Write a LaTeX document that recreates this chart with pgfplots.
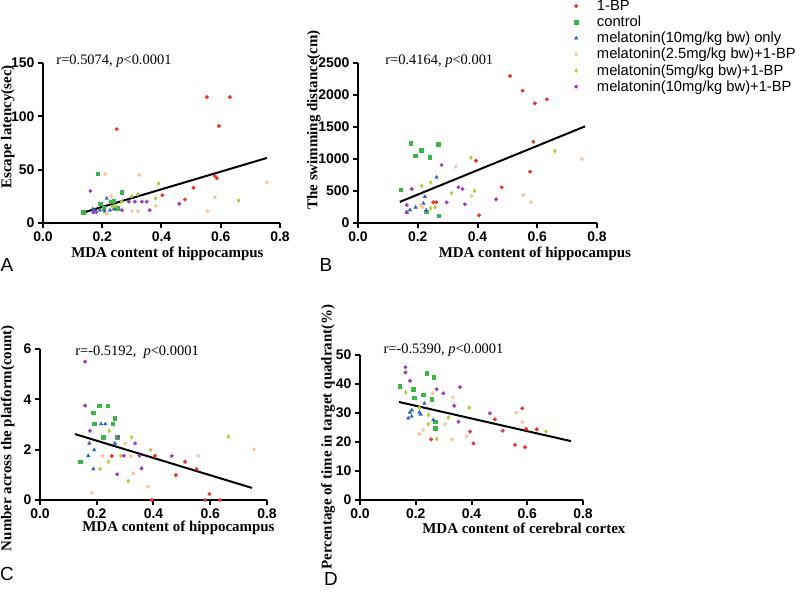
\documentclass[border=0pt]{standalone}
\usepackage{fontspec}
\setmainfont{Liberation Serif}
\newfontfamily\arial{Liberation Sans}
\usepackage{pgfplots}
\pgfplotsset{compat=1.18}

\definecolor{cR}{HTML}{E8372A}
\definecolor{cG}{HTML}{3DB54A}
\definecolor{cB}{HTML}{2E62B8}
\definecolor{cP}{HTML}{F5C79A}
\definecolor{cY}{HTML}{B7CB38}
\definecolor{cV}{HTML}{9A40B8}

\newcommand\tickfont{\arial\bfseries\fontsize{14}{15}\selectfont}
\newcommand\labfont{\bfseries\fontsize{15}{16}\selectfont}
\newcommand\annfont{\fontsize{14.5}{16}\selectfont}
\newcommand\legfont{\arial\fontsize{14.8}{16}\selectfont}
\newcommand\letfont{\arial\fontsize{19}{20}\selectfont}

\pgfplotsset{
  panel/.style={
    scale only axis,
    axis lines=left,
    axis line style={-, line width=2.2bp},
    tick style={black, line width=2bp},
    major tick length=5bp,
    tick align=outside,
    xmin=0, xmax=0.8, ymin=0,
    xtick={0,0.2,0.4,0.6,0.8},
    clip=false,
    /pgf/number format/assume math mode=true,
    ticklabel style={font=\tickfont},
    xticklabel={\tickfont\pgfmathprintnumber[assume math mode=true,fixed,fixed zerofill,precision=1]{\tick}},
    yticklabel={\tickfont\pgfmathprintnumber[assume math mode=true,fixed,precision=0,1000 sep={}]{\tick}},
    scaled ticks=false,
    label style={font=\labfont},
  },
  gR/.style={only marks, mark=*, mark size=1.8bp, color=cR},
  gG/.style={only marks, mark=square*, mark size=1.7bp, color=cG},
  gB/.style={only marks, mark=triangle*, mark size=2bp, color=cB},
  gP/.style={only marks, mark=*, mark size=1.8bp, color=cP},
  gY/.style={only marks, mark=diamond*, mark size=2bp, color=cY},
  gV/.style={only marks, mark=*, mark size=1.8bp, color=cV},
  fit/.style={black, line width=2bp, no marks},
}

\begin{document}
\begin{tikzpicture}
\useasboundingbox (0,0) rectangle (800bp,593bp);

% A
\begin{axis}[panel, at={(43bp,370bp)}, anchor=south west,
  width=237bp, height=160bp, ymax=150, ytick={0,50,100,150},
  xlabel={MDA content of hippocampus}, ylabel={Escape latency(sec)},
  xlabel style={at={(axis description cs:0.525,-0.19)}, anchor=center},
  ylabel style={at={(axis description cs:-0.148,0.6)}, anchor=center}]
\addplot[gR] coordinates {(0.553,118)(0.631,118)(0.594,91)(0.249,88)(0.580,44)(0.587,42)(0.508,33)(0.479,22)(0.403,26)};
\addplot[gG] coordinates {(0.185,46)(0.266,29)(0.136,10)(0.193,18)(0.230,20)(0.205,14)(0.250,14)(0.238,21)};
\addplot[gB] coordinates {(0.215,23)(0.192,12)(0.209,11)(0.226,12)(0.175,12)(0.168,13)(0.240,13)};
\addplot[gP] coordinates {(0.21,46)(0.325,45)(0.755,38)(0.58,24)(0.556,11)(0.38,16)(0.30,11)(0.32,11)(0.214,9)(0.23,25)};
\addplot[gY] coordinates {(0.39,37)(0.32,27)(0.38,23)(0.66,21)(0.234,15)(0.30,25)(0.266,20)(0.245,16)};
\addplot[gV] coordinates {(0.16,30)(0.31,20)(0.334,20)(0.35,20)(0.36,12)(0.46,18)(0.17,10)(0.18,10)(0.266,12)(0.29,20)};
\addplot[fit] coordinates {(0.142,10.3)(0.756,61)};
\node[anchor=west, font=\annfont] at (axis description cs:0.042,1.01) {r=0.5074, \textit{p}<0.0001};
\end{axis}

% B
\begin{axis}[panel, at={(358bp,370bp)}, anchor=south west,
  width=239bp, height=160bp, ymax=2500, ytick={0,500,1000,1500,2000,2500},
  xlabel={MDA content of hippocampus}, ylabel={The swimming distance(cm)},
  xlabel style={at={(axis description cs:0.74,-0.19)}, anchor=center},
  ylabel style={at={(axis description cs:-0.185,0.644)}, anchor=center},
  legend style={draw=none, fill=none, at={(axis description cs:0.892,1.418)}, anchor=north west,
    font=\legfont, row sep=0bp, /tikz/every odd column/.style={column sep=17bp}},
  legend cell align=left]
\addplot[gR] coordinates {(0.509,2297)(0.551,2067)(0.592,1870)(0.632,1932)(0.587,1270)(0.395,973)(0.576,802)(0.481,557)(0.405,120)(0.252,323)(0.262,323)};
\addplot[gG] coordinates {(0.177,1245)(0.268,1229)(0.211,1140)(0.191,1047)(0.240,1026)(0.143,516)(0.228,177)(0.271,114)};
\addplot[gB] coordinates {(0.263,714)(0.224,411)(0.219,307)(0.193,245)(0.174,203)(0.228,200)(0.163,161)};
\addplot[gP] coordinates {(0.327,880)(0.553,437)(0.579,323)(0.749,1000)(0.380,422)(0.216,245)(0.21,280)};
\addplot[gY] coordinates {(0.378,1020)(0.659,1125)(0.243,635)(0.213,583)(0.313,464)(0.390,505)(0.258,245)(0.243,230)};
\addplot[gV] coordinates {(0.280,906)(0.180,531)(0.336,558)(0.350,531)(0.297,323)(0.358,292)(0.462,370)(0.163,281)(0.163,170)};
\addplot[fit] coordinates {(0.14,330)(0.76,1510)};
\legend{1-BP, control, melatonin(10mg/kg bw) only, melatonin(2.5mg/kg bw)+1-BP, melatonin(5mg/kg bw)+1-BP, melatonin(10mg/kg bw)+1-BP}
\node[anchor=west, font=\annfont] at (axis description cs:0.1,1.01) {r=0.4164, \textit{p}<0.001};
\end{axis}

% C
\begin{axis}[panel, at={(40bp,93bp)}, anchor=south west,
  width=227bp, height=151bp, ymax=6, ytick={0,2,4,6},
  xlabel={MDA content of hippocampus}, ylabel={Number across the platform(count)},
  xlabel style={at={(axis description cs:0.61,-0.185)}, anchor=center},
  ylabel style={at={(axis description cs:-0.142,0.41)}, anchor=center}]
\addplot[gR] coordinates {(0.253,1.75)(0.405,1.75)(0.511,1.52)(0.479,0.99)(0.552,1.23)(0.597,0.24)(0.582,0)(0.634,0)(0.394,0)};
\addplot[gG] coordinates {(0.209,3.75)(0.239,3.75)(0.188,3.48)(0.264,3.25)(0.191,3.02)(0.256,3.02)(0.223,2.49)(0.272,2.49)(0.141,1.52)};
\addplot[gB] coordinates {(0.215,3.02)(0.23,3.02)(0.174,2.25)(0.264,2.25)(0.191,1.99)(0.170,1.75)(0.188,1.23)};
\addplot[gP] coordinates {(0.300,2.25)(0.221,1.75)(0.32,1.75)(0.182,0.29)(0.329,1.06)(0.38,0.53)(0.558,1.75)(0.754,2.01)};
\addplot[gY] coordinates {(0.244,2.75)(0.323,2.49)(0.285,1.75)(0.241,1.52)(0.212,1.23)(0.311,0.75)(0.39,1.99)(0.664,2.52)};
\addplot[gV] coordinates {(0.159,3.75)(0.159,5.5)(0.176,2.75)(0.335,2.25)(0.296,1.76)(0.35,1.76)(0.358,1.26)(0.272,1.02)(0.464,1.75)(0.276,2.5)};
\addplot[fit] coordinates {(0.123,2.62)(0.747,0.48)};
\node[anchor=west, font=\annfont] at (axis description cs:0.14,0.98) {r=-0.5192,\ \ \textit{p}<0.0001};
\end{axis}

% D
\begin{axis}[panel, at={(360bp,93bp)}, anchor=south west,
  width=223bp, height=145bp, ymax=50, ytick={0,10,20,30,40,50},
  xlabel={MDA content of cerebral cortex}, ylabel={Percentage of time in target quadrant(\%)},
  xlabel style={at={(axis description cs:0.735,-0.193)}, anchor=center},
  ylabel style={at={(axis description cs:-0.143,0.434)}, anchor=center}]
\addplot[gR] coordinates {(0.255,20.9)(0.395,23.6)(0.407,19.5)(0.484,27.8)(0.512,23.9)(0.582,31.6)(0.596,24.5)(0.634,24.4)(0.556,19)(0.592,18.2)};
\addplot[gG] coordinates {(0.239,43.7)(0.265,42.3)(0.143,39.3)(0.191,38.2)(0.227,36.4)(0.195,35.3)(0.257,34.8)(0.27,24.7)(0.27,27)};
\addplot[gB] coordinates {(0.231,33.3)(0.179,30.2)(0.186,31)(0.213,30.2)(0.185,28.8)(0.173,28.2)(0.218,29.5)(0.263,27.6)};
\addplot[gP] coordinates {(0.261,36.8)(0.333,35.4)(0.305,26.1)(0.227,24.1)(0.213,22.8)(0.329,20.9)(0.56,30.1)(0.582,26.8)(0.383,22)};
\addplot[gY] coordinates {(0.164,37.1)(0.213,31.8)(0.245,29.3)(0.317,28.4)(0.245,26.2)(0.275,21)(0.392,31.8)(0.667,23.6)};
\addplot[gV] coordinates {(0.163,45.8)(0.163,44.0)(0.179,41.1)(0.275,38.2)(0.299,36.8)(0.359,38.9)(0.338,32.5)(0.353,27)(0.466,29.9)};
\addplot[fit] coordinates {(0.14,33.8)(0.757,20.3)};
\node[anchor=west, font=\annfont] at (axis description cs:0.09,1.03) {r=-0.5390, \textit{p}<0.0001};
\end{axis}

\node[font=\letfont] at (7bp,328bp) {A};
\node[font=\letfont] at (326bp,328bp) {B};
\node[font=\letfont] at (7bp,19bp) {C};
\node[font=\letfont] at (331bp,14bp) {D};
\end{tikzpicture}
\end{document}
